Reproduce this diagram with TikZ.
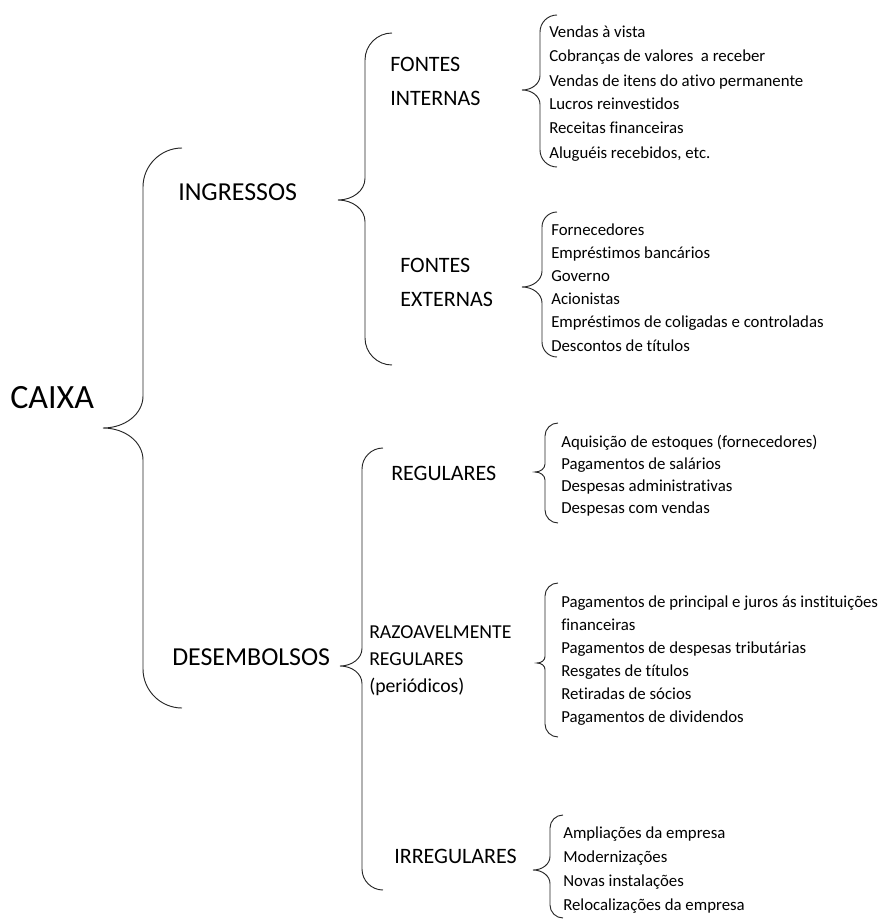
\documentclass[tikz,border=0pt]{standalone}
\usepackage{fontspec}
\setmainfont{Carlito}[Ligatures=NoCommon, RawFeature={-liga;-clig;-calt}]
\usetikzlibrary{positioning}

% curly brace: end x, line x, tip x, top y, tip y, bottom y
\newcommand{\curlybrace}[6]{%
  \draw[curl] (#1,#4) .. controls ({#2+0.45*(#1-#2)},#4) and (#2,{#4+0.45*(#1-#2)}) .. (#2,{#4+(#1-#2)})
    -- (#2,{#5-0.8*(#2-#3)}) .. controls (#2,{#5-0.35*(#2-#3)}) and ({#3+0.55*(#2-#3)},#5) .. (#3,#5)
    .. controls ({#3+0.55*(#2-#3)},#5) and (#2,{#5+0.35*(#2-#3)}) .. (#2,{#5+0.8*(#2-#3)})
    -- (#2,{#6-(#1-#2)}) .. controls (#2,{#6-0.45*(#1-#2)}) and ({#2+0.45*(#1-#2)},#6) .. (#1,#6);}

\begin{document}
\begin{tikzpicture}[x=0.75pt, y=-0.75pt]
	\tikzstyle{curl} = [draw=black!85, line width=0.7pt]
	\tikzstyle{root} = [inner sep=0pt, anchor=base west, font=\fontsize{25.5}{30}\selectfont]
	\tikzstyle{group} = [inner sep=0pt, anchor=base west, font=\fontsize{19.4}{24}\selectfont]
	\tikzstyle{sub} = [inner sep=0pt, anchor=base west, align=left, font=\fontsize{16.5}{25.5}\selectfont]
	\tikzstyle{items} = [inner sep=0pt, anchor=base west, align=left, font=\fontsize{12.6}{18}\selectfont]
	
	\useasboundingbox (0,0) rectangle (881,920);
	
	% multi-line nodes sit on the baseline of their last line
	\node[root]	at (10, 408)	(caixa)	{CAIXA};
	\node[group]	at (178, 200)	(ingressos)	{INGRESSOS};
	\node[group]	at (172, 665)	(desembolsos)	{DESEMBOLSOS};
	
	\node[sub]	at (390, 106)	(internas)	{FONTES\\INTERNAS};
	\node[sub]	at (400, 306)	(externas)	{FONTES\\EXTERNAS};
	\node[sub]	at (391, 480)	(regulares)	{REGULARES};
	\node[sub, font=\fontsize{14.8}{20}\selectfont]	at (369, 692)	(razoaveis)	{RAZOAVELMENTE\\REGULARES\\(periódicos)};
	\node[sub]	at (394, 863)	(irregulares)	{IRREGULARES};
	
	\node[items]	at (549, 158)	(internas-lista)	{Vendas à vista\\Cobranças de valores\ \ a receber\\Vendas de itens do ativo permanente\\Lucros reinvestidos\\Receitas financeiras\\Aluguéis recebidos, etc.};
	\node[items, font=\fontsize{12.6}{17.4}\selectfont]	at (551, 351)	(externas-lista)	{Fornecedores\\Empréstimos bancários\\Governo\\Acionistas\\Empréstimos de coligadas e controladas\\Descontos de títulos};
	\node[items, font=\fontsize{12.6}{16.5}\selectfont]	at (561, 513)	(regulares-lista)	{Aquisição de estoques (fornecedores)\\Pagamentos de salários\\Despesas administrativas\\Despesas com vendas};
	\node[items, font=\fontsize{12.6}{17.25}\selectfont]	at (561, 722)	(razoaveis-lista)	{Pagamentos de principal e juros ás instituições\\financeiras\\Pagamentos de despesas tributárias\\Resgates de títulos\\Retiradas de sócios\\Pagamentos de dividendos};
	\node[items]	at (563, 910)	(irregulares-lista)	{Ampliações da empresa\\Modernizações\\Novas instalações\\Relocalizações da empresa};
	
	\curlybrace{182}{143}{103}{148}{428}{708}
	\curlybrace{392}{365}{338}{33}{200}{365}
	\curlybrace{383}{362}{340}{448}{666}{890}
	\curlybrace{557}{540}{522}{15}{90}{167}
	\curlybrace{557}{542}{522}{212}{287}{357}
	\curlybrace{558}{545}{535}{423}{472}{523}
	\curlybrace{558}{545}{537}{583}{663}{737}
	\curlybrace{563}{550}{533}{815}{870}{918}
\end{tikzpicture}
\end{document}
